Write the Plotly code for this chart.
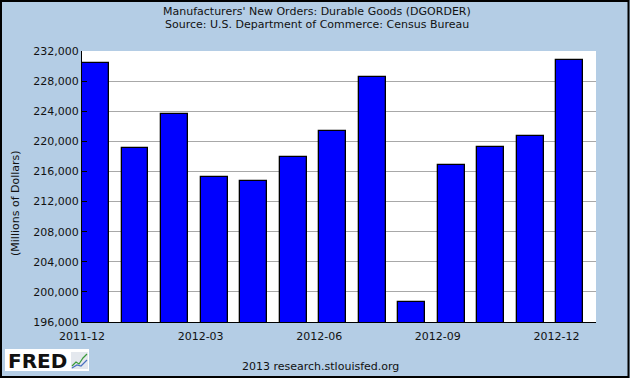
import plotly.graph_objects as go

# Data
months = ["2011-12", "2012-01", "2012-02", "2012-03", "2012-04", "2012-05", "2012-06",
          "2012-07", "2012-08", "2012-09", "2012-10", "2012-11", "2012-12"]
orders = [230400, 219100, 223600, 215300, 214700, 217900, 221400,
          228500, 198700, 216850, 219200, 220700, 230800]
x_tick_labels = ["2011-12", "2012-03", "2012-06", "2012-09", "2012-12"]
y_ticks = list(range(196000, 232001, 4000))

BG = "#B4CDE5"
FONT = "DejaVu Sans"

# plot area geometry in pixels
L, R, T, B = 82, 596, 51, 322
W, H = 630, 378
def px(x):
    return (x - L) / (R - L)
def py(y):
    return (B - y) / (B - T)

pos = list(range(len(months)))
tick_pos = [pos[months.index(m)] for m in x_tick_labels]

fig = go.Figure()
fig.add_trace(go.Bar(
    x=pos, y=orders, width=0.68, offset=0,
    marker=dict(color="#0000FF", line=dict(color="#000000", width=1.3)),
    hovertext=months,
))

fig.update_layout(
    width=W, height=H,
    margin=dict(l=L, r=W - R, t=T, b=H - B, pad=0),
    paper_bgcolor=BG, plot_bgcolor="#FFFFFF",
    font=dict(family=FONT, size=11, color="#000000"),
    showlegend=False, bargap=0,
    xaxis=dict(range=[0, 13], tickmode="array", tickvals=tick_pos, ticktext=x_tick_labels,
               showgrid=False, zeroline=False, showline=True, linecolor="#000000", linewidth=1,
               ticks="", ticklabelstandoff=4,
               tickfont=dict(size=11, family=FONT, color="#111111")),
    yaxis=dict(range=[196000, 232000], tickmode="array", tickvals=y_ticks,
               tickformat=",d", showgrid=True, gridcolor="#A8A8A8", gridwidth=1,
               zeroline=False, showline=True, linecolor="#000000", linewidth=1,
               ticks="inside", ticklen=5, tickcolor="#000000", tickwidth=1,
               tickfont=dict(size=11, family=FONT, color="#111111")),
)

ann = [
    dict(text="Manufacturers' New Orders: Durable Goods (DGORDER)", x=px(317), y=py(11)),
    dict(text="Source: U.S. Department of Commerce: Census Bureau", x=px(317), y=py(25)),
    dict(text="2013 research.stlouisfed.org", x=px(320), y=py(366)),
]
for a in ann:
    fig.add_annotation(xref="paper", yref="paper", showarrow=False, xanchor="center",
                       yanchor="middle", font=dict(family=FONT, size=11, color="#111111"), **a)
fig.add_annotation(text="(Millions of Dollars)", xref="paper", yref="paper", x=px(15), y=py(203),
                   textangle=-90, showarrow=False, xanchor="center", yanchor="middle",
                   font=dict(family=FONT, size=11, color="#111111"))

# outer border
fig.add_shape(type="rect", xref="paper", yref="paper", x0=px(1), x1=px(628.5), y0=py(377), y1=py(1),
              line=dict(color="#000000", width=2), fillcolor="rgba(0,0,0,0)", layer="above")

# FRED logo
fig.add_shape(type="rect", xref="paper", yref="paper", x0=px(5), x1=px(89), y0=py(371), y1=py(349),
              line=dict(width=0), fillcolor="#FFFFFF")
fig.add_shape(type="rect", xref="paper", yref="paper", x0=px(71), x1=px(88), y0=py(369), y1=py(352),
              line=dict(width=0), fillcolor="#E4E8EE")
fig.add_annotation(text="<b>FRED</b>", xref="paper", yref="paper", x=px(5.5), y=py(361),
                   xanchor="left", yanchor="middle", showarrow=False,
                   font=dict(family="DejaVu Sans", size=20, color="#111111"))
fig.add_shape(type="path", xref="paper", yref="paper",
              path="M %f %f L %f %f L %f %f L %f %f L %f %f" % (
                  px(72), py(366), px(76), py(362), px(79), py(364), px(83), py(358), px(87), py(354)),
              line=dict(color="#3A9A3A", width=1.2))
fig.add_shape(type="path", xref="paper", yref="paper",
              path="M %f %f L %f %f L %f %f L %f %f" % (
                  px(72), py(368), px(77), py(365), px(81), py(366), px(87), py(360)),
              line=dict(color="#4A70C0", width=1.2))

fig.write_html("out.html", config={"displayModeBar": False},
               post_script="document.body.style.margin='0';document.body.style.overflow='hidden';")
